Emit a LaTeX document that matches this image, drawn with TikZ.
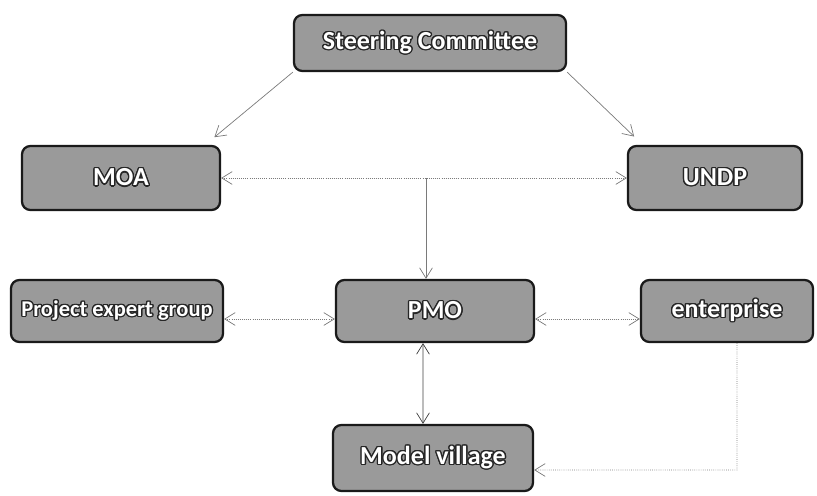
\documentclass[tikz,border=0pt]{standalone}
\usepackage{fontspec}
\setmainfont{Carlito}
\usepackage{tikz}
\usepackage{contour}
\contourlength{0.9pt}
\usetikzlibrary{
  arrows.meta,
  positioning,
  calc
}
\definecolor{orgFill}{HTML}{9A9A9A}
\definecolor{orgEdge}{HTML}{1A1A1A}
\definecolor{orgLine}{HTML}{7A7A7A}
\definecolor{orgText}{HTML}{FFFFFF}
\newcommand{\boxtext}[1]{\contour{black!85}{\textcolor{orgText}{#1}}}
\tikzset{
  orgbox/.style={
    draw=orgEdge, fill=orgFill, rounded corners=6pt, line width=1.6pt,
    font=\fontsize{18.5}{20}\selectfont\bfseries, align=center, inner sep=2pt
  },
  flow/.style={{Straight Barb[length=2.6mm,width=3.2mm]}-{Straight Barb[length=2.6mm,width=3.2mm]}, line width=0.5pt, orgLine},
  dflow/.style={flow, densely dotted},
  oneway/.style={-{Straight Barb[length=2.6mm,width=3.2mm]}, line width=0.5pt, orgLine}
}
\begin{document}
\begin{tikzpicture}[x=0.025cm, y=-0.025cm]
  \useasboundingbox (0,0) rectangle (817,495);
  % boxes
  \node[orgbox, minimum width=6.8cm, minimum height=1.4cm] (sc) at (430,43) {\boxtext{Steering Committee}};
  \node[orgbox, minimum width=4.95cm, minimum height=1.6cm] (moa) at (121,178) {\boxtext{MOA}};
  \node[orgbox, minimum width=4.35cm, minimum height=1.6cm] (undp) at (715,178) {\boxtext{UNDP}};
  \node[orgbox, minimum width=5.3cm, minimum height=1.55cm, font=\fontsize{16}{18}\selectfont\bfseries] (peg) at (117,311) {\boxtext{Project expert group}};
  \node[orgbox, minimum width=4.95cm, minimum height=1.55cm] (pmo) at (435,311) {\boxtext{PMO}};
  \node[orgbox, minimum width=4.3cm, minimum height=1.55cm] (ent) at (727,311) {\boxtext{enterprise}};
  \node[orgbox, minimum width=5cm, minimum height=1.65cm] (mv) at (433,458) {\boxtext{Model village}};
  % connectors
  \draw[oneway, shorten >=3mm] (sc.south west) -- ([xshift=-0.4cm]moa.north east);
  \draw[oneway, shorten >=3mm] (sc.south east) -- ([xshift=0.4cm]undp.north west);
  \draw[dflow] (moa.east) -- (undp.west);
  \coordinate (mid) at ($(moa.east)!0.5!(undp.west)$);
  \draw[oneway] (mid -| pmo.north) ++(-9,0) coordinate (drop) -- (drop |- pmo.north);
  \draw[dflow] ([yshift=-0.2cm]peg.east) -- ([yshift=-0.2cm]pmo.west);
  \draw[dflow] ([yshift=-0.2cm]pmo.east) -- ([yshift=-0.2cm]ent.west);
  \draw[flow, black!75] ([xshift=-0.3cm]pmo.south) -- ([xshift=-0.25cm]mv.north);
  \draw[oneway, densely dotted] (ent.south) ++(10,0) coordinate (entdown) -- (entdown |- 0,470) -- ([yshift=-0.3cm]mv.east);
\end{tikzpicture}
\end{document}
